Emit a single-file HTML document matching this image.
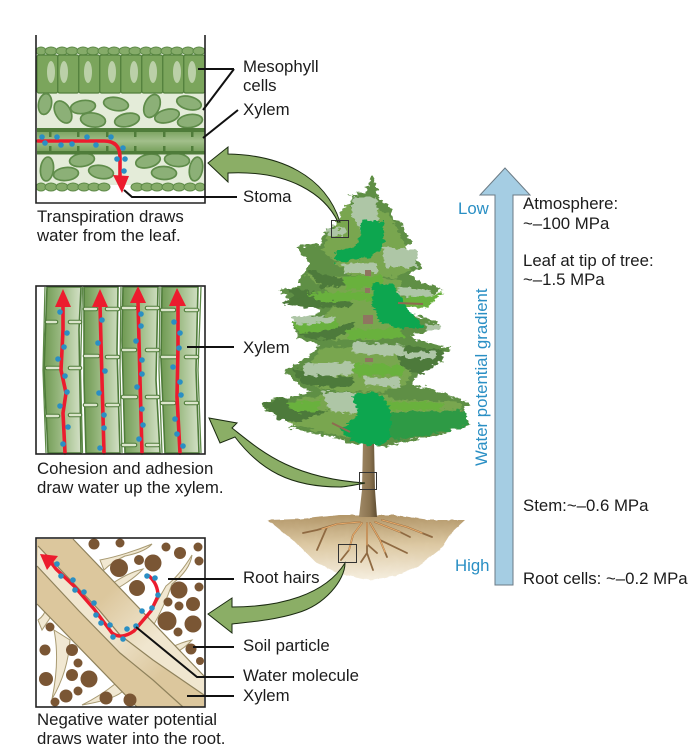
<!DOCTYPE html>
<html><head><meta charset="utf-8"><style>
html,body{margin:0;padding:0;background:#fff}
svg{display:block}
text{font-family:"Liberation Sans",Arial,sans-serif;font-size:16.8px;fill:#1c1c1c}
.b{fill:#2a8fc4}
.d{fill:#2a8fc4}
.l{fill:none;stroke:#111;stroke-width:2}
.ov{fill:#8cb077;stroke:#5f8c4a;stroke-width:1.7}
.ep{fill:#85ab69;stroke:#5d8a47;stroke-width:1}
.r{fill:none;stroke:#ec1c2e;stroke-width:3;stroke-linejoin:round;stroke-linecap:round}
.h{fill:#ec1c2e}
.s{fill:#7a5634}
.hair{fill:#f1e8d2;stroke:#a89a72;stroke-width:1}
.t1{stroke:#4f7c3a;stroke-width:4.6;fill:none;stroke-linecap:round}
.t2{stroke:#dbe5cb;stroke-width:2.4;fill:none;stroke-linecap:round}
.ga{fill:#8bae66;stroke:#1a2a10;stroke-width:1}
</style></head><body>
<svg width="693" height="755" viewBox="0 0 693 755" xmlns="http://www.w3.org/2000/svg">
<defs>
<filter id="jag" filterUnits="userSpaceOnUse" x="240" y="160" width="250" height="300">
<feTurbulence type="fractalNoise" baseFrequency="0.16 0.3" numOctaves="2" seed="4"/>
<feDisplacementMap in="SourceGraphic" scale="8" xChannelSelector="R" yChannelSelector="G"/>
</filter>
<filter id="jag2" filterUnits="userSpaceOnUse" x="255" y="505" width="225" height="90">
<feTurbulence type="fractalNoise" baseFrequency="0.2" numOctaves="1" seed="2"/>
<feDisplacementMap in="SourceGraphic" scale="3" xChannelSelector="R" yChannelSelector="G"/>
</filter>
<linearGradient id="tube" x1="0" x2="1" y1="0" y2="0"><stop offset="0" stop-color="#6f9a52"/><stop offset=".55" stop-color="#a4c08d"/><stop offset="1" stop-color="#d3e0c6"/></linearGradient>
<linearGradient id="xy" x1="0" x2="0" y1="0" y2="1"><stop offset="0" stop-color="#6e9a52"/><stop offset=".5" stop-color="#a2bf8b"/><stop offset="1" stop-color="#6e9a52"/></linearGradient>
<linearGradient id="soil" x1="0" x2="0" y1="0" y2="1"><stop offset="0" stop-color="#b29668"/><stop offset=".45" stop-color="#dcc8a2"/><stop offset="1" stop-color="#f6efe0"/></linearGradient>
<linearGradient id="trunk" x1="0" x2="1" y1="0" y2="0"><stop offset="0" stop-color="#a08a66"/><stop offset=".6" stop-color="#8a7350"/><stop offset="1" stop-color="#5f4d32"/></linearGradient>
<linearGradient id="up" gradientUnits="userSpaceOnUse" x1="60" y1="550" x2="190" y2="680"><stop offset=".35" stop-color="#dcc79d"/><stop offset=".7" stop-color="#f0e6cf"/></linearGradient>
<linearGradient id="mid" gradientUnits="userSpaceOnUse" x1="50" y1="570" x2="190" y2="700"><stop offset=".45" stop-color="#f0e6cf"/><stop offset=".8" stop-color="#dcc79d"/></linearGradient>
</defs>

<!-- PANEL 1 -->
<rect x="37" y="93" width="168" height="92" fill="#e4ecd9"/>
<g class="ep">
<ellipse cx="41" cy="51" rx="5" ry="4"/><ellipse cx="51" cy="51" rx="6" ry="4"/><ellipse cx="62" cy="51" rx="6" ry="4"/><ellipse cx="72" cy="51" rx="6" ry="4"/><ellipse cx="83" cy="51" rx="6" ry="4"/><ellipse cx="93" cy="51" rx="6" ry="4"/><ellipse cx="104" cy="51" rx="6" ry="4"/><ellipse cx="114" cy="51" rx="6" ry="4"/><ellipse cx="125" cy="51" rx="6" ry="4"/><ellipse cx="135" cy="51" rx="6" ry="4"/><ellipse cx="146" cy="51" rx="6" ry="4"/><ellipse cx="156" cy="51" rx="6" ry="4"/><ellipse cx="167" cy="51" rx="6" ry="4"/><ellipse cx="177" cy="51" rx="6" ry="4"/><ellipse cx="188" cy="51" rx="6" ry="4"/><ellipse cx="199" cy="51" rx="6" ry="4"/>
</g>
<g fill="#7ba55c" stroke="#527f3c" stroke-width="1.2">
<rect x="37" y="55" width="20.8" height="38" rx="2"/><rect x="57.8" y="55" width="21" height="38" rx="2"/><rect x="78.8" y="55" width="21" height="38" rx="2"/><rect x="99.8" y="55" width="21" height="38" rx="2"/><rect x="120.8" y="55" width="21" height="38" rx="2"/><rect x="141.8" y="55" width="21" height="38" rx="2"/><rect x="162.8" y="55" width="21" height="38" rx="2"/><rect x="183.8" y="55" width="21" height="38" rx="2"/>
</g>
<g fill="#bbd0a8">
<ellipse cx="51" cy="72" rx="4" ry="11"/><ellipse cx="64" cy="72" rx="4" ry="11"/><ellipse cx="88" cy="72" rx="4" ry="11"/><ellipse cx="112" cy="72" rx="4" ry="11"/><ellipse cx="134" cy="72" rx="4" ry="11"/><ellipse cx="153" cy="72" rx="4" ry="11"/><ellipse cx="177" cy="72" rx="4" ry="11"/><ellipse cx="192" cy="72" rx="4" ry="11"/>
</g>
<g class="ov">
<ellipse cx="45" cy="104" rx="6.5" ry="10.5" transform="rotate(10 45 104)"/>
<ellipse cx="63" cy="112" rx="7.5" ry="12" transform="rotate(-30 63 112)"/>
<ellipse cx="83" cy="107" rx="12.5" ry="6.5" transform="rotate(-8 83 107)"/>
<ellipse cx="116" cy="104" rx="12.5" ry="6.5" transform="rotate(10 116 104)"/>
<ellipse cx="93" cy="120" rx="12.5" ry="7" transform="rotate(8 93 120)"/>
<ellipse cx="127" cy="120" rx="12.5" ry="6.5" transform="rotate(-12 127 120)"/>
<ellipse cx="152" cy="106" rx="7.5" ry="12" transform="rotate(22 152 106)"/>
<ellipse cx="167" cy="116" rx="12.5" ry="6.5" transform="rotate(-14 167 116)"/>
<ellipse cx="189" cy="103" rx="12.5" ry="6.5" transform="rotate(14 189 103)"/>
<ellipse cx="190" cy="121" rx="12.5" ry="6.5" transform="rotate(-8 190 121)"/>
<ellipse cx="47" cy="169" rx="6.5" ry="12" transform="rotate(6 47 169)"/>
<ellipse cx="66" cy="174" rx="12.5" ry="6.5" transform="rotate(-6 66 174)"/>
<ellipse cx="82" cy="160" rx="12.5" ry="6.5" transform="rotate(-8 82 160)"/>
<ellipse cx="101" cy="172" rx="12.5" ry="6.5" transform="rotate(10 101 172)"/>
<ellipse cx="148" cy="161" rx="12.5" ry="6.5" transform="rotate(-14 148 161)"/>
<ellipse cx="177" cy="160" rx="12.5" ry="6.5" transform="rotate(6 177 160)"/>
<ellipse cx="164" cy="173" rx="12.5" ry="6.5" transform="rotate(2 164 173)"/>
<ellipse cx="196" cy="169" rx="6.5" ry="12" transform="rotate(10 196 169)"/>
</g>
<rect x="37" y="128" width="168" height="26" fill="url(#xy)"/>
<rect x="37" y="128" width="168" height="4" fill="#4f7c3a"/>
<rect x="37" y="151" width="168" height="3.5" fill="#4f7c3a"/>
<g fill="#4f7c3a"><rect x="49" y="131" width="2.5" height="6"/><rect x="49" y="146" width="2.5" height="6"/><rect x="77" y="131" width="2.5" height="6"/><rect x="77" y="146" width="2.5" height="6"/><rect x="106" y="131" width="2.5" height="6"/><rect x="106" y="146" width="2.5" height="6"/><rect x="134" y="131" width="2.5" height="6"/><rect x="134" y="146" width="2.5" height="6"/><rect x="163" y="131" width="2.5" height="6"/><rect x="163" y="146" width="2.5" height="6"/><rect x="191" y="131" width="2.5" height="6"/><rect x="191" y="146" width="2.5" height="6"/></g>
<rect x="37" y="185" width="168" height="18" fill="#fff"/>
<g class="ep">
<ellipse cx="41" cy="187" rx="5" ry="4"/><ellipse cx="51" cy="187" rx="6" ry="4"/><ellipse cx="62" cy="187" rx="6" ry="4"/><ellipse cx="73" cy="187" rx="6" ry="4"/><ellipse cx="84" cy="187" rx="6" ry="4"/><ellipse cx="94" cy="187" rx="6" ry="4"/><ellipse cx="104" cy="187" rx="6" ry="4"/>
<ellipse cx="137" cy="187" rx="6" ry="4"/><ellipse cx="147" cy="187" rx="6" ry="4"/><ellipse cx="157" cy="187" rx="6" ry="4"/><ellipse cx="168" cy="187" rx="6" ry="4"/><ellipse cx="179" cy="187" rx="6" ry="4"/><ellipse cx="190" cy="187" rx="6" ry="4"/><ellipse cx="200" cy="187" rx="5" ry="4"/>
</g>
<path class="r" style="stroke-width:3.6" d="M38 141H104Q120 141 120 157V178"/>
<polygon class="h" points="122,193 113,175 129,176"/>
<g class="d">
<circle cx="42" cy="137" r="2.8"/><circle cx="45" cy="143" r="2.8"/><circle cx="57" cy="137" r="2.8"/><circle cx="61" cy="145" r="2.8"/><circle cx="72" cy="144" r="2.8"/><circle cx="87" cy="137" r="2.8"/><circle cx="96" cy="145" r="2.8"/><circle cx="111" cy="137" r="2.8"/><circle cx="123" cy="148" r="2.8"/><circle cx="117" cy="159" r="2.8"/><circle cx="125" cy="159" r="2.8"/><circle cx="124" cy="171" r="2.8"/>
</g>
<path d="M36 35V203H205V35" fill="none" stroke="#222" stroke-width="1.6"/>

<!-- PANEL 2 -->
<g>
<path d="M47 287H81L79 330 81 453H48L44 370Z" fill="url(#tube)" stroke="#4f7c3a" stroke-width="1.6"/>
<path d="M84 287H118L117 350 120 453H86L84 380Z" fill="url(#tube)" stroke="#4f7c3a" stroke-width="1.6"/>
<path d="M123 287H158L156 380 160 453H125L122 340Z" fill="url(#tube)" stroke="#4f7c3a" stroke-width="1.6"/>
<path d="M162 287H198L196 370 199 453H165L161 360Z" fill="url(#tube)" stroke="#4f7c3a" stroke-width="1.6"/>
</g>
<path d="M45 287L43 370 46 453M82.500 287L80.500 370 82.500 453M121 287L120 370 122 453M160 287L159 370 162 453M201 287L198 370 201 453" fill="none" stroke="#5d8a47" stroke-width="1.3"/>
<path class="t1" d="M47 322H56M47 368H60M47 416H58M70 322H80M70 368H80M70 415H80M85 309H96M85 356H98M85 405H96M107 309H118M107 357H118M107 405H118M123 308H135M123 350H135M123 397H136M123 445H135M147 308H158M147 350H158M147 397H158M147 445H158M162 310H174M162 357H176M162 403H174M186 310H197M186 357H197M186 403H197"/>
<path class="t2" d="M47 322H56M47 368H60M47 416H58M70 322H80M70 368H80M70 415H80M85 309H96M85 356H98M85 405H96M107 309H118M107 357H118M107 405H118M123 308H135M123 350H135M123 397H136M123 445H135M147 308H158M147 350H158M147 397H158M147 445H158M162 310H174M162 357H176M162 403H174M186 310H197M186 357H197M186 403H197"/>
<g class="r" style="stroke-width:3.6">
<path d="M65 453L63 413 66 393 61 370 63 330 63 303"/>
<path d="M104 453L102 380 100 305"/>
<path d="M142 453L140 380 138 302"/>
<path d="M180 453L177 397 178 347 178 304"/>
</g>
<g class="h">
<polygon points="63,289 55,307 71,307"/><polygon points="100,289 92,307 108,307"/><polygon points="138,286 130,303 146,303"/><polygon points="177,288 169,306 186,306"/>
</g>
<g class="d">
<circle cx="60" cy="312" r="2.8"/><circle cx="67" cy="333" r="2.8"/><circle cx="64" cy="347" r="2.8"/><circle cx="58" cy="359" r="2.8"/><circle cx="65" cy="376" r="2.8"/><circle cx="67" cy="392" r="2.8"/><circle cx="60" cy="406" r="2.8"/><circle cx="68" cy="427" r="2.8"/><circle cx="63" cy="444" r="2.8"/>
<circle cx="102" cy="320" r="2.8"/><circle cx="98" cy="343" r="2.8"/><circle cx="105" cy="371" r="2.8"/><circle cx="99" cy="393" r="2.8"/><circle cx="104" cy="415" r="2.8"/><circle cx="104" cy="428" r="2.8"/><circle cx="100" cy="448" r="2.8"/>
<circle cx="141" cy="314" r="2.8"/><circle cx="141" cy="326" r="2.8"/><circle cx="136" cy="341" r="2.8"/><circle cx="142" cy="360" r="2.8"/><circle cx="142" cy="374" r="2.8"/><circle cx="137" cy="387" r="2.8"/><circle cx="142" cy="409" r="2.8"/><circle cx="143" cy="425" r="2.8"/><circle cx="139" cy="439" r="2.8"/>
<circle cx="174" cy="322" r="2.8"/><circle cx="180" cy="333" r="2.8"/><circle cx="179" cy="348" r="2.8"/><circle cx="173" cy="367" r="2.8"/><circle cx="180" cy="382" r="2.8"/><circle cx="181" cy="395" r="2.8"/><circle cx="175" cy="419" r="2.8"/><circle cx="177" cy="434" r="2.8"/><circle cx="183" cy="446" r="2.8"/>
</g>
<rect x="36" y="286" width="169" height="168" fill="none" stroke="#222" stroke-width="1.6"/>

<!-- PANEL 3 -->
<g class="hair">
<path d="M100 560Q125 555 152 544 145 552 125 556 112 562 104 570Z"/>
<path d="M113 583Q130 572 143 569 135 578 118 588Z"/>
<path d="M145 622Q158 600 166 586 180 575 192 555 190 570 172 584 165 605 152 628Z"/>
<path d="M170 648Q182 642 192 640 185 648 175 653Z"/>
<path d="M38 620Q45 615 46 608L50 618 42 630Z"/>
<path d="M54 630Q60 660 52 699 68 672 70 640Z"/>
<path d="M115 684Q100 696 82 705 112 700 122 692L114 668Z"/>
</g>
<path d="M73 539L204 676V707H137L37 604V539Z" fill="#dcc79d"/>
<path d="M73 539L204 676V695L153 660 120 635 99 610 38 546V539Z" fill="url(#up)"/>
<path d="M38 546L99 610 120 635 153 660 204 695V707H183L153 680 120 653 79 611 37 566Z" fill="url(#mid)"/>
<path d="M73 539L204 676M38 546L99 610 120 635 153 660 204 695M37 566L79 611 120 653 153 680 183 707M37 604L137 707" fill="none" stroke="#8f825c" stroke-width="1.2"/>
<g class="s">
<circle cx="94" cy="544" r="5.500"/><circle cx="120" cy="543" r="4.500"/><circle cx="166" cy="547" r="4.500"/><circle cx="180" cy="553" r="6"/><circle cx="198" cy="547" r="4.500"/><circle cx="199" cy="561" r="4.500"/><circle cx="153" cy="563" r="8.500"/><circle cx="119" cy="568" r="9"/><circle cx="139" cy="560" r="5"/><circle cx="137" cy="588" r="8"/><circle cx="179" cy="590" r="8.500"/><circle cx="199" cy="587" r="4.500"/><circle cx="168" cy="602" r="4.500"/><circle cx="179" cy="606" r="4.500"/><circle cx="193" cy="604" r="7"/><circle cx="167" cy="621" r="9.500"/><circle cx="193" cy="624" r="8.500"/><circle cx="178" cy="632" r="4.500"/><circle cx="50" cy="627" r="4.500"/><circle cx="45" cy="650" r="5.500"/><circle cx="72" cy="650" r="6"/><circle cx="78" cy="663" r="4.500"/><circle cx="191" cy="649" r="5.500"/><circle cx="200" cy="661" r="4"/><circle cx="46" cy="679" r="7"/><circle cx="72" cy="675" r="6"/><circle cx="89" cy="679" r="8.500"/><circle cx="78" cy="691" r="4.500"/><circle cx="66" cy="696" r="6.500"/><circle cx="55" cy="702" r="4.500"/><circle cx="106" cy="698" r="6.500"/><circle cx="130" cy="700" r="6.500"/>
</g>
<path class="r" style="stroke-width:3.4" d="M46 556L56 569 74 586 94 609 112 633Q121 640 134 631L151 611 158 596Q158 584 149 576"/>
<polygon class="h" points="40,554 58,556 47,570"/>
<g class="d">
<circle cx="57" cy="564" r="2.8"/><circle cx="61" cy="576" r="2.8"/><circle cx="73" cy="580" r="2.8"/><circle cx="75" cy="590" r="2.8"/><circle cx="84" cy="592" r="2.8"/><circle cx="94" cy="603" r="2.8"/><circle cx="96" cy="615" r="2.8"/><circle cx="101" cy="623" r="2.8"/><circle cx="110" cy="625" r="2.8"/><circle cx="113" cy="637" r="2.8"/><circle cx="123" cy="639" r="2.8"/><circle cx="127" cy="629" r="2.8"/><circle cx="136" cy="626" r="2.8"/><circle cx="142" cy="611" r="2.8"/><circle cx="152" cy="608" r="2.8"/><circle cx="158" cy="595" r="2.8"/><circle cx="155" cy="578" r="2.8"/><circle cx="147" cy="576" r="2.8"/>
</g>
<rect x="36" y="538" width="169" height="169" fill="none" stroke="#222" stroke-width="1.6"/>

<!-- LEADERS -->
<path class="l" d="M198 69H234M234 69L203 110M238 110L203 138M124 190L132 197H237M187 347H234M168 579H234M193 647H234M136 627L197 677H234M187 696H234"/>

<!-- SOIL -->
<path d="M268 520L300 519 340 515 395 515 430 520 465 520 452 532 442 548 420 565 395 576 370 580 340 574 315 562 295 542Z" fill="url(#soil)" filter="url(#jag2)"/>

<!-- TRUNK -->
<path d="M363 440H374L375 490 377 517H359L362 490Z" fill="url(#trunk)"/>

<!-- TREE -->
<g filter="url(#jag)">
<polygon fill="#5f8f45" points="373,176 377,190 380,200 392,208 393,220 401,222 405,232 412,243 404,247 412,254 423,266 420,270 410,272 416,280 443,290 428,295 408,300 407,312 425,318 442,325 425,332 410,336 425,342 452,348 440,356 443,362 428,368 417,376 412,384 425,387 440,392 450,396 470,403 462,412 470,425 452,430 437,436 415,440 395,443 385,447 365,444 350,445 340,438 328,436 313,433 290,428 300,422 280,420 262,405 270,400 295,396 312,392 297,384 283,370 295,365 313,352 320,345 298,338 292,322 320,312 318,306 290,302 280,290 300,285 298,280 305,272 310,262 298,250 298,246 320,245 324,231 340,222 342,208 352,203 350,195 366,192 369,182"/>
<polygon fill="#79a650" points="345,205 388,212 405,245 415,266 395,278 350,275 322,250 335,225"/>
<polygon fill="#79a650" points="305,275 400,280 402,300 400,325 375,340 325,340 325,315 340,300"/>
<polygon fill="#79a650" points="320,348 395,345 415,365 405,385 380,392 330,390 310,385 308,370"/>
<polygon fill="#79a650" points="300,398 375,392 400,400 460,402 462,412 430,425 360,440 320,432 290,424 285,412"/>
<polygon fill="#4d7a3a" points="281,303 300,293 350,300 352,307 310,308"/>
<polygon fill="#4d7a3a" points="286,288 305,289 318,295 296,298"/>
<polygon fill="#4d7a3a" points="298,335 320,330 355,322 352,330 330,340 310,338"/>
<polygon fill="#4d7a3a" points="395,345 445,350 440,362 420,375 400,365"/>
<polygon fill="#4d7a3a" points="290,368 320,375 355,378 350,388 305,385"/>
<polygon fill="#4d7a3a" points="262,403 285,398 300,412 330,410 300,422 280,420"/>
<polygon fill="#4d7a3a" points="308,270 345,280 345,285 322,288"/>
<polygon fill="#69b13e" points="307,293 370,292 375,300 320,302"/>
<polygon fill="#69b13e" points="292,322 335,318 340,328 300,334"/>
<polygon fill="#69b13e" points="345,330 400,328 405,338 350,340"/>
<polygon fill="#69b13e" points="353,363 405,366 403,376 355,375"/>
<polygon fill="#69b13e" points="343,277 383,275 383,287 345,290"/>
<polygon fill="#69b13e" points="395,298 440,293 443,292 425,308 398,306"/>
<polygon fill="#69b13e" points="285,403 320,400 318,412 295,412"/>
<polygon fill="#69b13e" points="385,401 445,403 440,410 390,410"/>
<polygon fill="#2f9a45" points="387,412 465,410 468,425 440,433 400,440 380,435"/>
<polygon fill="#aec6a6" points="353,197 376,197 378,232 362,233 352,215"/>
<polygon fill="#aec6a6" points="326,228 347,228 345,236 328,236"/>
<polygon fill="#aec6a6" points="343,264 378,263 378,273 345,273"/>
<polygon fill="#aec6a6" points="383,247 417,250 417,267 385,267"/>
<polygon fill="#aec6a6" points="293,316 335,317 333,323 295,324"/>
<polygon fill="#aec6a6" points="352,342 405,345 403,356 352,353"/>
<polygon fill="#aec6a6" points="303,364 353,362 353,375 305,376"/>
<polygon fill="#aec6a6" points="363,377 400,378 400,387 365,385"/>
<polygon fill="#aec6a6" points="320,392 355,392 357,413 332,412"/>
<polygon fill="#aec6a6" points="398,287 430,290 433,297 400,296"/>
<polygon fill="#aec6a6" points="403,352 437,352 435,358 405,358"/>
<polygon fill="#aec6a6" points="425,323 442,325 440,330 427,330"/>
<polygon fill="#0ba650" points="362,220 385,222 383,248 368,258 335,262 335,253 358,245"/>
<polygon fill="#0ba650" points="373,283 395,285 405,305 418,320 425,328 395,328 380,322 372,305"/>
<polygon fill="#0ba650" points="352,395 378,392 392,410 390,440 370,447 352,440 340,430 358,415"/>
</g>
<g fill="#8f7560">
<rect x="363" y="315" width="10" height="9"/><rect x="365" y="270" width="6" height="6"/><rect x="365" y="288" width="5" height="5"/><rect x="365" y="358" width="8" height="4"/>
</g>
<path d="M398 303L423 304M332 423L350 432" stroke="#8f6a50" stroke-width="2" fill="none"/>

<!-- ROOTS -->
<g fill="none" stroke="#8f6a42" stroke-width="1.8" stroke-linecap="round" stroke-linejoin="round">
<path d="M360 522L337 524 317 530 303 533M327 527L317 550M362 523L353 535 349 550 341 560M367 523L367 543 367 553 373 570M367 553L361 562M368 545L377 553M370 523L380 540 387 557M380 540L407 553M375 522L400 532 410 537M382 520L407 527 432 537"/>
</g>
<g fill="none" stroke="#e8a968" stroke-width="1.1" stroke-linecap="round" stroke-linejoin="round">
<path d="M360 522L337 524 322 529M362 523L353 535 349 550M367 523L367 545M370 523L380 540 385 552M375 522L400 532M382 520L407 527 422 533"/>
</g>

<!-- ARROWS -->
<path class="ga" d="M208 163L228 147V154C280 155 325 175 340 222 338 222 336 222 338 222 325 195 290 170 228 173V182Z"/>
<path class="ga" d="M209 418L237 423 232 428C260 450 290 478 365 483 350 486 345 487 340 487 290 487 260 470 235 437L220 443Z"/>
<path class="ga" d="M208 614L232 598V607C280 607 325 595 345 563 345 580 325 605 297 613 275 620 250 622 232 624V633Z"/>
<g fill="none" stroke="#333" stroke-width="1">
<rect x="331.500" y="220.500" width="17" height="17"/>
<rect x="359.500" y="472.500" width="17" height="17"/>
<rect x="338.500" y="544.500" width="18" height="18"/>
</g>

<!-- GRADIENT ARROW -->
<path d="M495 585V195H480L505 168 530 195H513V585Z" fill="#a5cde3" stroke="#6b7a84" stroke-width="1"/>

<!-- LABELS -->
<text x="243" y="72">Mesophyll</text>
<text x="243" y="91">cells</text>
<text x="243" y="115">Xylem</text>
<text x="243" y="202">Stoma</text>
<text x="37" y="222">Transpiration draws</text>
<text x="37" y="241">water from the leaf.</text>
<text x="243" y="353">Xylem</text>
<text x="37" y="474">Cohesion and adhesion</text>
<text x="37" y="493">draw water up the xylem.</text>
<text x="243" y="583">Root hairs</text>
<text x="243" y="651">Soil particle</text>
<text x="243" y="681">Water molecule</text>
<text x="243" y="701">Xylem</text>
<text x="37" y="725">Negative water potential</text>
<text x="37" y="744">draws water into the root.</text>
<text x="523" y="209">Atmosphere:</text>
<text x="523" y="229">~–100 MPa</text>
<text x="523" y="266">Leaf at tip of tree:</text>
<text x="523" y="285">~–1.5 MPa</text>
<text x="523" y="511">Stem:~–0.6 MPa</text>
<text x="523" y="584">Root cells: ~–0.2 MPa</text>
<text class="b" x="458" y="214">Low</text>
<text class="b" x="455" y="571">High</text>
<text class="b" transform="translate(487 466) rotate(-90)">Water potential gradient</text>
</svg>
</body></html>
